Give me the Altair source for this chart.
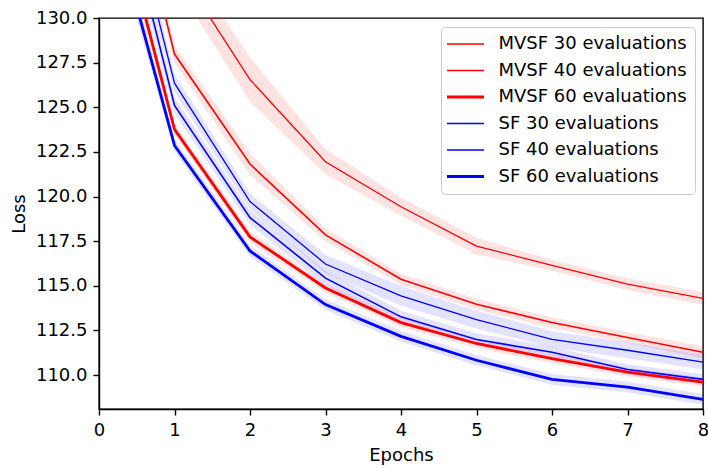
import altair as alt
import pandas as pd

epochs = [0, 1, 2, 3, 4, 5, 6, 7, 8]
series_names = [
    "MVSF 30 evaluations",
    "MVSF 40 evaluations",
    "MVSF 60 evaluations",
    "SF 30 evaluations",
    "SF 40 evaluations",
    "SF 60 evaluations",
]
groups = ["MVSF", "MVSF", "MVSF", "SF", "SF", "SF"]

mvsf30 = [150.0, 133.1, 126.55, 121.95, 119.43, 117.22, 116.15, 115.09, 114.29]
mvsf40 = [145.3, 127.98, 121.82, 117.85, 115.37, 113.97, 112.94, 112.10, 111.28]
mvsf60 = [140.1, 123.76, 117.74, 114.88, 112.94, 111.77, 110.92, 110.17, 109.61]
sf30 = [143.2, 126.35, 119.72, 116.22, 114.44, 113.11, 112.00, 111.39, 110.73]
sf40 = [142.0, 125.10, 118.82, 115.43, 113.26, 111.99, 111.28, 110.31, 109.76]
sf60 = [138.4, 122.86, 116.95, 113.95, 112.17, 110.83, 109.76, 109.33, 108.64]

err_mvsf30 = [1.5, 1.1, 1.25, 0.70, 0.50, 0.47, 0.30, 0.33, 0.37]
err_mvsf40 = [1.0, 0.5, 0.60, 0.37, 0.31, 0.30, 0.30, 0.30, 0.35]
err_mvsf60 = [1.0, 0.3, 0.30, 0.25, 0.25, 0.25, 0.25, 0.25, 0.25]
err_sf30 = [1.0, 0.5, 0.45, 0.50, 0.55, 0.50, 0.45, 0.45, 0.42]
err_sf40 = [1.0, 0.45, 0.40, 0.40, 0.35, 0.35, 0.30, 0.30, 0.30]
err_sf60 = [1.0, 0.35, 0.30, 0.30, 0.30, 0.30, 0.30, 0.30, 0.30]

y_ticks = [110.0, 112.5, 115.0, 117.5, 120.0, 122.5, 125.0, 127.5, 130.0]

line_colors = ["#ff0000", "#ff0000", "#ff0000", "#0000ff", "#0000ff", "#0000ff"]
line_widths = [1.3, 1.6, 2.8, 1.3, 1.6, 2.8]

all_vals = [mvsf30, mvsf40, mvsf60, sf30, sf40, sf60]
all_errs = [err_mvsf30, err_mvsf40, err_mvsf60, err_sf30, err_sf40, err_sf60]

rows = []
for name, grp, vals, errs in zip(series_names, groups, all_vals, all_errs):
    for e, v, s in zip(epochs, vals, errs):
        rows.append(dict(series=name, group=grp, epoch=e, loss=v, lo=v - s, hi=v + s))
df = pd.DataFrame(rows)

x_enc = alt.X(
    "epoch:Q",
    scale=alt.Scale(domain=[0, 8], nice=False, zero=False),
    axis=alt.Axis(values=epochs, format="d", title="Epochs", labelFlush=False),
)
y_scale = alt.Scale(domain=[108.1, 130], nice=False, zero=False)
y_axis = alt.Axis(values=y_ticks, format=".1f", title="Loss", labelFlush=False)

band = alt.Chart(df).mark_area(clip=True, opacity=0.11).encode(
    x=x_enc,
    y=alt.Y("lo:Q", scale=y_scale, axis=y_axis),
    y2="hi:Q",
    fill=alt.Fill(
        "group:N",
        scale=alt.Scale(domain=["MVSF", "SF"], range=["#ff0000", "#0000ff"]),
        legend=None,
    ),
    detail="series:N",
)

line = alt.Chart(df).mark_line(clip=True).encode(
    x=x_enc,
    y=alt.Y("loss:Q", scale=y_scale, axis=y_axis),
    color=alt.Color(
        "series:N",
        scale=alt.Scale(domain=series_names, range=line_colors),
        legend=alt.Legend(title=None, symbolOpacity=1),
    ),
    strokeWidth=alt.StrokeWidth(
        "series:N",
        scale=alt.Scale(type="ordinal", domain=series_names, range=line_widths),
        legend=alt.Legend(title=None, symbolOpacity=1),
    ),
)

chart = (
    alt.layer(band, line)
    .properties(
        width=604,
        height=391,
        autosize=alt.AutoSizeParams(type="none"),
        padding={"left": 99, "top": 18, "right": 5, "bottom": 59},
    )
    .configure_view(stroke="black", strokeWidth=1.4)
    .configure_axis(
        labelFont="DejaVu Sans",
        titleFont="DejaVu Sans",
        labelFontSize=18,
        titleFontSize=18,
        titleFontWeight="normal",
        labelColor="black",
        titleColor="black",
        tickColor="black",
        domainColor="black",
        tickSize=6,
        tickWidth=1.4,
        domainWidth=1.4,
        labelPadding=6,
        titlePadding=7,
        grid=False,
    )
    .configure_legend(
        orient="none",
        legendX=342,
        legendY=9,
        strokeColor="#cccccc",
        fillColor="rgba(255,255,255,0.8)",
        cornerRadius=4,
        padding=8,
        labelFont="DejaVu Sans",
        labelFontSize=18,
        labelColor="black",
        symbolType="M-2.5,0H2.5",
        symbolSize=219,
        rowPadding=8.5,
        labelOffset=24,
        symbolOffset=7.5,
        labelLimit=400,
    )
)

chart.save("out.html", embed_options={"renderer": "svg", "actions": False})
